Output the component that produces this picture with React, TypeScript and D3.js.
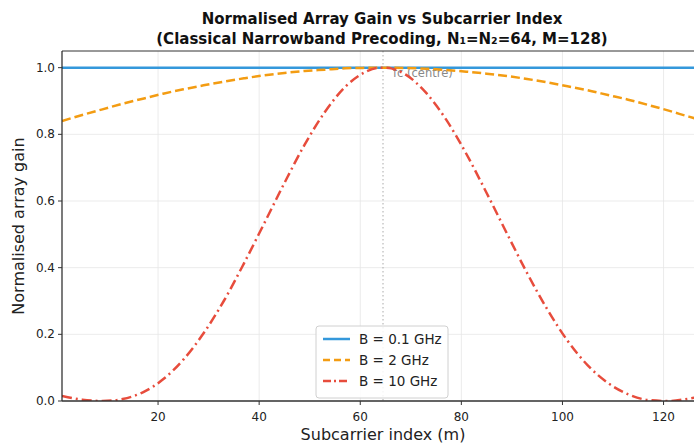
import React from "react";
import * as d3 from "d3";

const subcarriers = [1, 5, 9, 13, 17, 21, 25, 29, 33, 37, 41, 45, 49, 53, 57, 61, 64, 65, 69, 73, 77, 81, 85, 89, 93, 97, 101, 105, 109, 113, 117, 121, 125, 128];
const gain01 = [0.9996, 0.9997, 0.9997, 0.9998, 0.9998, 0.9998, 0.9999, 0.9999, 0.9999, 1.0, 1.0, 1.0, 1.0, 1.0, 1.0, 1.0, 1.0, 1.0, 1.0, 1.0, 1.0, 1.0, 1.0, 1.0, 0.9999, 0.9999, 0.9999, 0.9998, 0.9998, 0.9998, 0.9997, 0.9997, 0.9996, 0.9996];
const gain2 = [0.84, 0.858, 0.875, 0.892, 0.907, 0.922, 0.935, 0.947, 0.958, 0.968, 0.977, 0.984, 0.99, 0.994, 0.998, 0.9995, 1.0, 1.0, 0.999, 0.997, 0.993, 0.988, 0.982, 0.975, 0.966, 0.956, 0.944, 0.932, 0.918, 0.904, 0.888, 0.871, 0.853, 0.84];
const gain10 = [0.015, 0.004, 0.0, 0.006, 0.026, 0.065, 0.124, 0.203, 0.3, 0.413, 0.533, 0.654, 0.769, 0.867, 0.942, 0.987, 1.0, 1.0, 0.979, 0.925, 0.844, 0.741, 0.624, 0.503, 0.384, 0.275, 0.181, 0.107, 0.054, 0.02, 0.003, 0.0, 0.007, 0.015];
const seriesNames = ["B = 0.1 GHz", "B = 2 GHz", "B = 10 GHz"];
const xTicks = [20, 40, 60, 80, 100, 120];
const yTicks = [0, 0.2, 0.4, 0.6, 0.8, 1.0];
const centreIndex = 64.5;

const W = 694, H = 443;
const L = 62, T = 51, R = 704, B = 401;
const font = "DejaVu Sans, sans-serif";

export default function App() {
  const x = d3.scaleLinear().domain([1, 128]).range([L, R]);
  const y = d3.scaleLinear().domain([0, 1.05]).range([B, T]);
  const line = (vals: number[]) =>
    d3.line<number>().x((_, i) => x(subcarriers[i])).y((v) => y(v)).curve(d3.curveMonotoneX)(vals) || "";
  const series = [
    { name: seriesNames[0], vals: gain01, color: "#3498db", dash: "none" },
    { name: seriesNames[1], vals: gain2, color: "#f39c12", dash: "9,4" },
    { name: seriesNames[2], vals: gain10, color: "#e74c3c", dash: "10,4,2,4" },
  ];
  const lx = 316, ly = 326;
  return (
    <div style={{ position: "fixed", left: 0, top: 0, width: W, height: H, background: "#fff" }}>
      <svg width={W} height={H} style={{ display: "block" }} fontFamily={font}>
        <defs>
          <clipPath id="plot">
            <rect x={L} y={T} width={R - L} height={B - T} />
          </clipPath>
        </defs>
        <rect x={0} y={0} width={W} height={H} fill="#fff" />
        {xTicks.map((t) => (
          <line key={"gx" + t} x1={x(t)} x2={x(t)} y1={T} y2={B} stroke="#e6e6e6" strokeWidth={0.8} />
        ))}
        {yTicks.map((t) => (
          <line key={"gy" + t} x1={L} x2={R} y1={y(t)} y2={y(t)} stroke="#e6e6e6" strokeWidth={0.8} />
        ))}
        <line x1={x(centreIndex)} x2={x(centreIndex)} y1={T} y2={B} stroke="#aaa" strokeWidth={1} strokeDasharray="1.5,2.5" />
        <text x={x(centreIndex) + 10} y={77} fontSize={11.5} fill="#888">fc (centre)</text>
        <g clipPath="url(#plot)">
          {series.map((s) => (
            <path key={s.name} d={line(s.vals)} fill="none" stroke={s.color} strokeWidth={2.5} strokeDasharray={s.dash} />
          ))}
        </g>
        <line x1={L} x2={R} y1={T} y2={T} stroke="#333" strokeWidth={1} />
        <line x1={L} x2={L} y1={T} y2={B} stroke="#222" strokeWidth={1.2} />
        <line x1={L} x2={R} y1={B} y2={B} stroke="#333" strokeWidth={1.5} />
        {xTicks.map((t) => (
          <g key={"tx" + t}>
            <line x1={x(t)} x2={x(t)} y1={B} y2={B + 4} stroke="#333" />
            <text x={x(t)} y={B + 20} fontSize={12} textAnchor="middle" fill="#222">{t}</text>
          </g>
        ))}
        {yTicks.map((t) => (
          <g key={"ty" + t}>
            <line x1={L - 4} x2={L} y1={y(t)} y2={y(t)} stroke="#333" />
            <text x={L - 7} y={y(t) + 4} fontSize={12} textAnchor="end" fill="#222">{t.toFixed(1)}</text>
          </g>
        ))}
        <text x={383} y={440} fontSize={16} textAnchor="middle" fill="#222">Subcarrier index (m)</text>
        <text transform={`translate(24,${(T + B) / 2}) rotate(-90)`} fontSize={16} textAnchor="middle" fill="#222">Normalised array gain</text>
        <text x={382} y={24} fontSize={15} fontWeight="bold" textAnchor="middle" fill="#111">Normalised Array Gain vs Subcarrier Index</text>
        <text x={382} y={44} fontSize={15} fontWeight="bold" textAnchor="middle" fill="#111">(Classical Narrowband Precoding, N₁=N₂=64, M=128)</text>
        <g>
          <rect x={lx} y={ly} width={132} height={72} rx={3} fill="#fff" fillOpacity={0.85} stroke="#d0d0d0" />
          {series.map((s, i) => (
            <g key={"lg" + i}>
              <line x1={lx + 7} x2={lx + 34} y1={ly + 13 + i * 21} y2={ly + 13 + i * 21} stroke={s.color} strokeWidth={2.5} strokeDasharray={s.dash === "none" ? "none" : i === 1 ? "7,4" : "8,3,2,3"} />
              <text x={lx + 43} y={ly + 18 + i * 21} fontSize={13.5} fill="#222">{s.name}</text>
            </g>
          ))}
        </g>
      </svg>
    </div>
  );
}
